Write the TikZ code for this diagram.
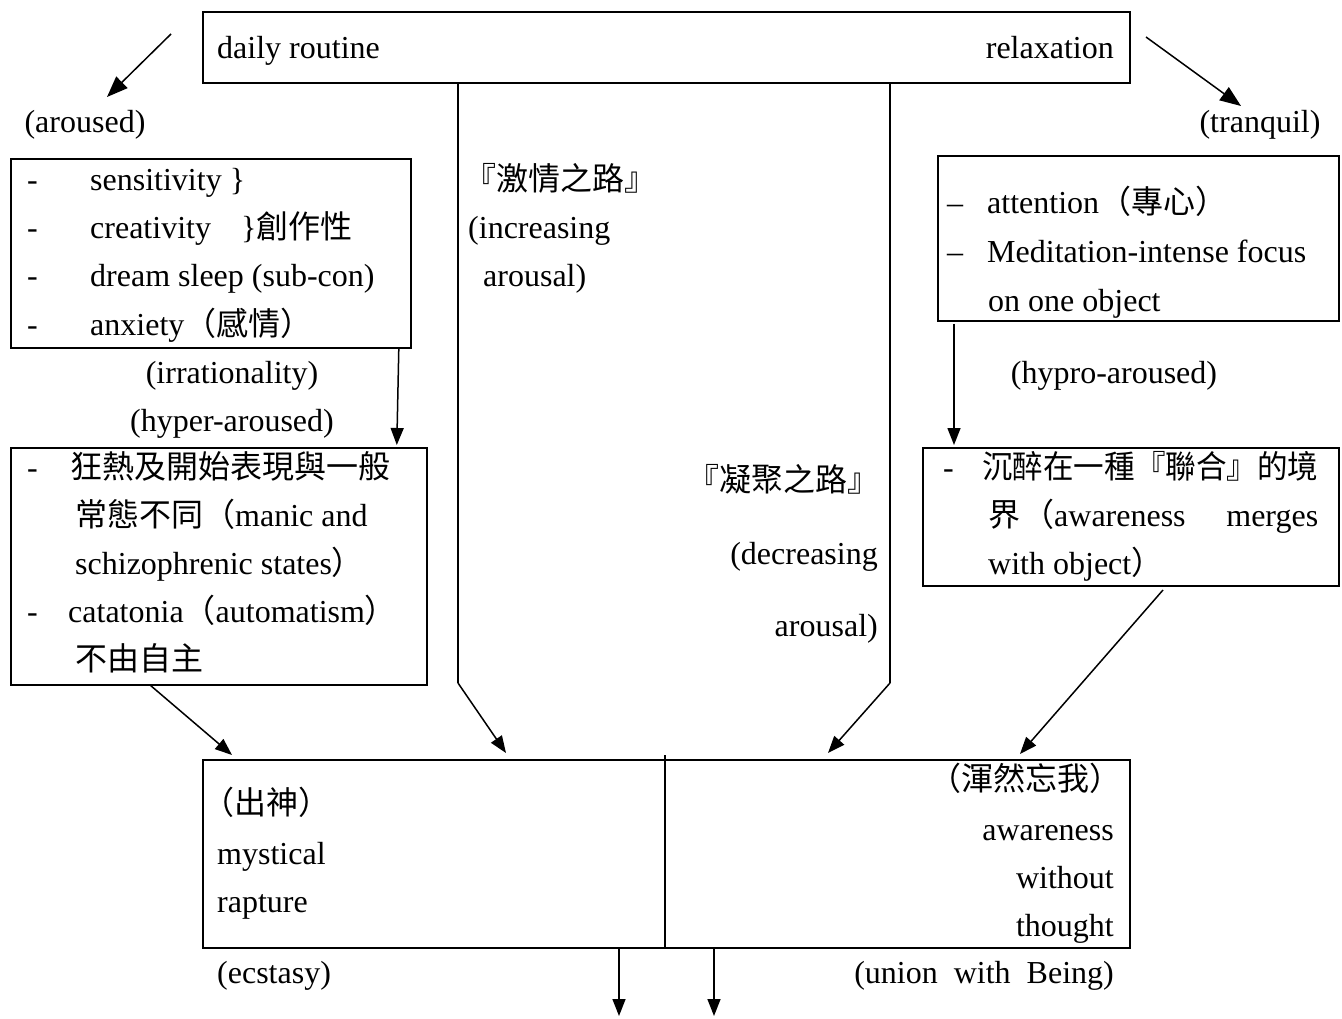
\documentclass[tikz,border=0pt]{standalone}
\usepackage{fontspec}
\setmainfont{Liberation Serif}
\newfontfamily\cjk{Noto Sans CJK TC}
\usetikzlibrary{arrows.meta,calc}
\begin{document}
\begin{tikzpicture}[x=1pt,y=-1pt,
 every node/.style={inner sep=0pt, font=\fontsize{32}{38}\selectfont},
 tl/.style={anchor=base west}, tr/.style={anchor=base east}, tc/.style={anchor=base},
 boxn/.style={draw, line width=1.8pt, anchor=north west, inner sep=0pt},
 arr/.style={line width=1.5pt, -{Triangle[length=17pt,width=13pt]}},
 bigarr/.style={line width=1.5pt, -{Triangle[length=21pt,width=16pt]}},
 ln/.style={line width=2pt}]
\useasboundingbox[fill=white] (0,0) rectangle (1342,1019);

% boxes
\node[boxn, minimum width=927pt, minimum height=71pt] (top) at (202,11) {};
\node[boxn, minimum width=400pt, minimum height=189pt] (L1) at (10,158) {};
\node[boxn, minimum width=416pt, minimum height=237pt] (L2) at (10,447) {};
\node[boxn, minimum width=401pt, minimum height=165pt] (R1) at (937,155) {};
\node[boxn, minimum width=416pt, minimum height=138pt] (R2) at (922,447) {};
\node[boxn, minimum width=927pt, minimum height=188pt] (B) at (202,759) {};

% top box text
\node[tl] (daily) at (217,59) {daily routine};
\node[tr] (relax) at (1114,59) {relaxation};

% side labels
\node[tc] (aroused) at (85,133) {(aroused)};
\node[tc] (tranquil) at (1260,133) {(tranquil)};

% L1 text
\node[tl] (d1) at (27,191) {-};
\node[tl] (t1) at (90,191) {sensitivity \}};
\node[tl] (d2) at (27,239) {-};
\node[tl] (t2) at (90,239) {creativity\hspace{30pt}\}{\cjk 創作性}};
\node[tl] (d3) at (27,287) {-};
\node[tl] (t3) at (90,287) {dream sleep (sub-con)};
\node[tl] (d4) at (27,335) {-};
\node[tl] (t4) at (90,335) {anxiety{\cjk （感情）}};

\node[tc] (irr) at (232,383) {(irrationality)};
\node[tc] (hyper) at (232,431) {(hyper-aroused)};

% L2 text
\node[tl] (e1) at (27,478) {-};
\node[tl] (u1) at (70,478) {{\cjk 狂熱及開始表現與一般}};
\node[tl] (u2) at (75,526) {{\cjk 常態不同（}manic and};
\node[tl] (u3) at (75,574) {schizophrenic states{\cjk ）}};
\node[tl] (e4) at (27,622) {-};
\node[tl] (u4) at (68,622) {catatonia{\cjk （}automatism{\cjk ）}};
\node[tl] (u5) at (75,670) {{\cjk 不由自主}};

% middle labels
\node[tl] (inc1) at (464,191) {{\cjk 『激情之路』}};
\node[tl] (inc2) at (468,239) {(increasing};
\node[tl] (inc3) at (483,287) {arousal)};
\node[tr] (dec1) at (880,491) {{\cjk 『凝聚之路』}};
\node[tr] (dec2) at (878,564) {(decreasing};
\node[tr] (dec3) at (878,636) {arousal)};

% R1 text
\node[tl] (f1) at (947,214) {–};
\node[tl] (v1) at (987,214) {attention{\cjk （專心）}};
\node[tl] (f2) at (947,262) {–};
\node[tl] (v2) at (987,262) {Meditation-intense focus};
\node[tl] (v3) at (988,311) {on one object};

\node[tc] (hypro) at (1114,383) {(hypro-aroused)};

% R2 text
\node[tl] (g1) at (943,478) {-};
\node[tl] (w1) at (982,478) {\scalebox{0.955}[1]{\cjk 沉醉在一種『聯合』的境}};
\node[tl] (w2) at (988,526) {\makebox[330pt][l]{{\cjk 界}\hspace{2pt}{\cjk （}awareness\hfill merges}};
\node[tl] (w3) at (988,574) {with object{\cjk ）}};

% bottom box text
\node[tl] (b1) at (202,814) {{\cjk （出神）}};
\node[tl] (b2) at (217,864) {mystical};
\node[tl] (b3) at (217,912) {rapture};
\node[tr] (c1) at (1122,790) {{\cjk （渾然忘我）}};
\node[tr] (c2) at (1114,840) {awareness};
\node[tr] (c3) at (1114,888) {without};
\node[tr] (c4) at (1114,936) {thought};
\node[tl] (ecst) at (217,983) {(ecstasy)};
\node[tr] (union) at (1114,983) {(union\ \ with\ \ Being)};

% connector coordinates
\coordinate (p1) at (171,34);   \coordinate (q1) at (107,97);
\coordinate (p2) at (1146,37);  \coordinate (q2) at (1241,106);
\coordinate (m1) at (458,683);  \coordinate (m2) at (890,683);
\coordinate (h1) at (506,753);  \coordinate (h2) at (828,753);
\coordinate (s1) at (150,685);  \coordinate (s2) at (232,755);
\coordinate (r1) at (1163,590); \coordinate (r2) at (1020,754);
\coordinate (dv) at (665,755);
\coordinate (o1) at (619,1016); \coordinate (o2) at (714,1016);

\draw[bigarr] (p1) -- (q1);
\draw[bigarr] (p2) -- (q2);
\draw[arr] (L1.south east) ++(-13,0) -- ($(L2.north east)+(-31,-2)$);
\draw[arr] (R1.south west) ++(17,2) -- ($(R2.north west)+(32,-2)$);
\draw[ln] (top.south -| m1) -- (m1);
\draw[ln] (top.south -| m2) -- (m2);
\draw[arr] (m1) -- (h1);
\draw[arr] (m2) -- (h2);
\draw[arr] (s1) -- (s2);
\draw[arr] (r1) -- (r2);
\draw[line width=1.5pt] (dv) -- (B.south -| dv);
\draw[arr] (B.south -| o1) -- (o1);
\draw[arr] (B.south -| o2) -- (o2);
\end{tikzpicture}
\end{document}
